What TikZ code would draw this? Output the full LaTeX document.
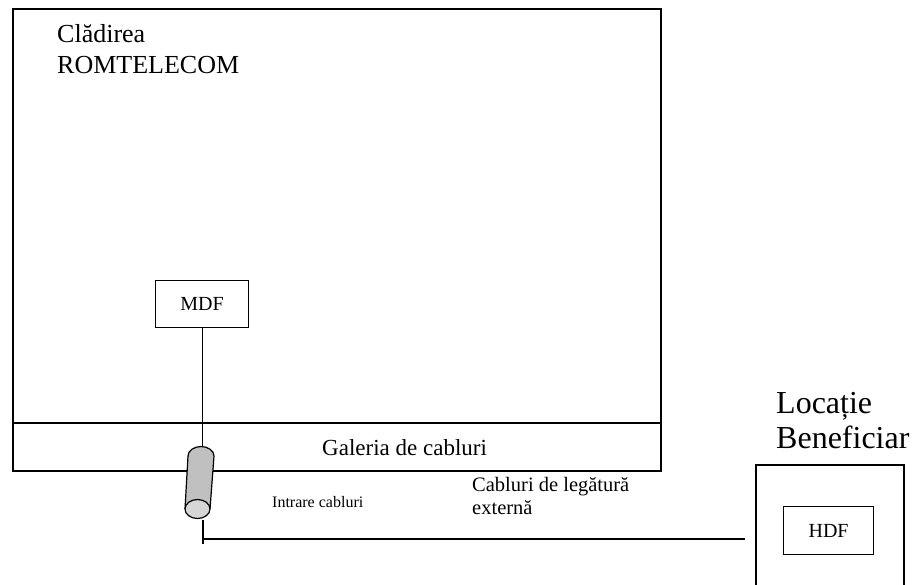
\documentclass[tikz,border=0pt]{standalone}
\usepackage{fontspec}
\setmainfont{Liberation Serif}
\definecolor{cylbody}{RGB}{192,192,192}
\definecolor{cylend}{RGB}{214,214,214}
\begin{document}
\begin{tikzpicture}[x=1pt,y=-1pt,
  outer/.style={draw, line width=1.6pt, inner sep=0pt},
  inbox/.style={draw, line width=1.2pt, inner sep=0pt},
  wire/.style={line width=1.2pt},
  lbl/.style={anchor=base west, inner sep=0pt, align=left}]
\useasboundingbox (0,0) rectangle (912,584);
% building
\node[outer, minimum width=648pt, minimum height=462pt, anchor=north west] (building) at (12,8) {};
\coordinate (galL) at (12,423);
\coordinate (galR) at (660,423);
\draw[line width=1.6pt] (galL) -- (galR);
\node[lbl, font=\fontsize{26}{31}\selectfont] (title) at (57,73) {Clădirea\\ROMTELECOM};
\node[lbl, font=\fontsize{23}{28}\selectfont] (gal) at (322,455) {Galeria de cabluri};
% MDF
\node[inbox, minimum width=93pt, minimum height=47pt, anchor=north west, font=\fontsize{20}{24}\selectfont] (mdf) at (155,280) {MDF};
% cylinder
\coordinate (cyltop) at (201.5,447);
\def\ry{9.5}
\fill[cylbody] (188,456) arc[start angle=180, end angle=360, x radius=13, y radius=\ry] -- (210,509) arc[start angle=0, end angle=180, x radius=12.5, y radius=\ry] -- cycle;
\draw[line width=1.2pt] (188,456) arc[start angle=180, end angle=360, x radius=13, y radius=\ry] -- (210,509);
\draw[line width=1.2pt] (188,456) -- (185,509);
\draw[line width=1.2pt, fill=cylend] (197.5,509) ellipse[x radius=12.5, y radius=\ry];
\draw[wire] (mdf.south) -- (mdf.south |- cyltop);
\node[lbl, font=\fontsize{16}{20}\selectfont] (intr) at (272,507) {Intrare cabluri};
% external cable
\coordinate (cylbot) at (203,520);
\coordinate (cabend) at (203,544);
\coordinate (corner) at (202,539);
\coordinate (cabR) at (745,539);
\draw[wire] (cylbot) -- (cabend);
\draw[wire] (corner) -- (cabR);
\node[lbl, font=\fontsize{20.5}{23}\selectfont] (ext) at (472,514) {Cabluri de legătură\\externă};
% Beneficiar
\node[lbl, font=\fontsize{32}{35}\selectfont] (loc) at (776,448) {Locație\\Beneficiar};
\draw[line width=1.6pt] (756,590) -- (756,465) -- (904,465) -- (904,590);
\node[inbox, minimum width=90pt, minimum height=48pt, anchor=north west, font=\fontsize{20}{24}\selectfont] (hdf) at (783,506) {HDF};
\end{tikzpicture}
\end{document}
